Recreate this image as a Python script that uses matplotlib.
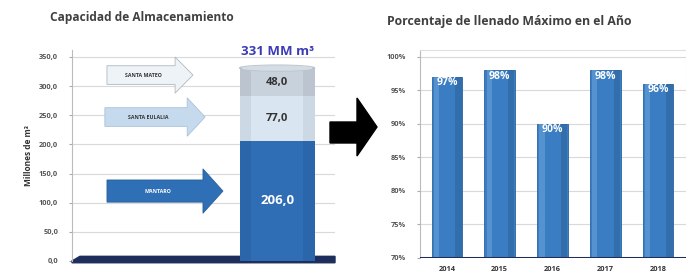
import numpy as np
import matplotlib
matplotlib.use("Agg")
import matplotlib.pyplot as plt
from matplotlib.patches import FancyArrow, Ellipse, Polygon

plt.rcParams['font.family'] = ['Open Sans', 'DejaVu Sans']

# left chart: storage capacity (millions of m3)
sources = ["MANTARO", "SANTA EULALIA", "SANTA MATEO"]
capacity = [206.0, 77.0, 48.0]
total_label = "331 MM m\u00b3"
seg_colors = ["#2F6DB5", "#D9E6F2", "#C8D2DC"]
seg_text = ["white", "#333333", "#333333"]
left_ticks = [0, 50, 100, 150, 200, 250, 300, 350]

# right chart: max fill percentage per year
years = ["2014", "2015", "2016", "2017", "2018"]
fill_pct = [97, 98, 90, 98, 96]
right_ticks = [70, 75, 80, 85, 90, 95, 100]

W, H = 686, 279
fig = plt.figure(figsize=(W / 100, H / 100), dpi=100)
fig.patch.set_facecolor("white")


def px_axes(l, t, r, b):
    return fig.add_axes([l / W, 1 - b / H, (r - l) / W, (b - t) / H])


grid_c = "#D9D9D9"
tick_c = "#555555"

# ---------------- left panel ----------------
ax1 = px_axes(72, 50, 335, 261)
ax1.set_xlim(0, 1)
ax1.set_ylim(0, 362)
ax1.set_yticks(left_ticks)
ax1.set_yticklabels([f"{v:.1f}".replace(".", ",") for v in left_ticks],
                    fontsize=5.3, color=tick_c, fontweight="bold")
ax1.set_xticks([])
ax1.tick_params(axis="y", length=2, color="#AAAAAA", pad=8)
for v in left_ticks[1:]:
    ax1.axhline(v, color=grid_c, lw=0.8, zorder=0)
for s in ["top", "right", "bottom"]:
    ax1.spines[s].set_visible(False)
ax1.spines["left"].set_color("#BBBBBB")
ax1.set_ylabel("Millones de m\u00b3", fontsize=6, color="#333333",
               fontweight="bold", labelpad=4)

cx, bw = 0.78, 0.285
bottoms = np.concatenate([[0], np.cumsum(capacity)[:-1]])
for val, bot, col, tc in zip(capacity, bottoms, seg_colors, seg_text):
    ax1.bar(cx, val, bottom=bot, width=bw, color=col, edgecolor="none", zorder=3)
    ax1.text(cx, bot + val / 2, f"{val:.1f}".replace(".", ","), ha="center",
             va="center", fontsize=9.5 if val > 100 else 8, fontweight="bold",
             color=tc, zorder=5)
# cylinder shading
for k in [0.0, 0.85]:
    ax1.bar(cx - bw / 2 + k * bw + 0.075 * bw, sum(capacity), width=0.15 * bw,
            color="black", alpha=0.06, edgecolor="none", zorder=4)
top = sum(capacity)
ax1.add_patch(Ellipse((cx, top), bw, 10, color="#B9C4CF", zorder=4))
ax1.add_patch(Ellipse((cx, top), bw * 0.92, 7, color="#D5DCE3", zorder=4))
ax1.text(cx, top + 18, total_label, ha="center", va="bottom", fontsize=9.5,
         fontweight="bold", color="#3B3BB8", zorder=5)

# callout arrows (layout: y centre, x start, x tip, body half, head half, head length)
arrow_layout = [(120, 0.133, 0.574, 19, 38, 0.076),
                (247, 0.125, 0.506, 16, 33, 0.068),
                (319, 0.133, 0.460, 16, 31, 0.068)]
arrow_face = ["#2F6FB5", "#C6DAEE", "#EEF3F8"]
arrow_edge = ["#2A5F9A", "#A9C2DA", "#B0B8C0"]
arrow_txt = ["white", "#333333", "#333333"]
for name, (yc, x0, x1, bh, hh, hl), fc, ec, tc in zip(
        sources, arrow_layout, arrow_face, arrow_edge, arrow_txt):
    ax1.add_patch(FancyArrow(x0, yc, x1 - x0, 0, width=2 * bh, head_width=2 * hh,
                             head_length=hl, length_includes_head=True,
                             facecolor=fc, edgecolor=ec, lw=0.6, zorder=3))
    ax1.text(x0 + (x1 - x0 - hl) / 2 + 0.01, yc, name, ha="center", va="center",
             fontsize=3.8, fontweight="bold", color=tc, zorder=5)

# floor
ax1.add_patch(Polygon([[0, 0], [0.03, 8], [1.0, 8], [1.0, -3], [0, -3]],
                      closed=True, color="#1E2E5C", zorder=2, clip_on=False))

fig.text(50 / W, 1 - 18 / H, "Capacidad de Almacenamiento", fontsize=8.6,
         fontweight="bold", color="#404040", va="center")

# ---------------- middle arrow ----------------
big = Polygon([[330 / W, 1 - 122 / H], [357 / W, 1 - 122 / H], [357 / W, 1 - 98 / H],
               [377 / W, 1 - 127 / H], [357 / W, 1 - 156 / H], [357 / W, 1 - 143 / H],
               [330 / W, 1 - 143 / H]], closed=True, transform=fig.transFigure,
              color="black")
fig.patches.append(big)

# ---------------- right panel ----------------
ax2 = px_axes(420, 50, 686, 258)
x = np.arange(len(years))
ax2.set_xlim(-0.51, 4.53)
ax2.set_ylim(70, 101)
ax2.set_yticks(right_ticks)
ax2.set_yticklabels([f"{v}%" for v in right_ticks], fontsize=5.3, color=tick_c,
                    fontweight="bold")
ax2.tick_params(axis="y", length=2, color="#AAAAAA", pad=8)
ax2.set_xticks(x)
ax2.set_xticklabels(years, fontsize=5.3, color="#333333", fontweight="bold")
ax2.tick_params(axis="x", length=0, pad=6)
for v in right_ticks[1:]:
    ax2.axhline(v, color=grid_c, lw=0.8, zorder=0)
for s in ["top", "right"]:
    ax2.spines[s].set_color("#E0E0E0")
ax2.spines["left"].set_color("#BBBBBB")
ax2.spines["bottom"].set_visible(False)

bars = ax2.bar(x, [p - 70 for p in fill_pct], bottom=70, width=0.58,
               color="#3A7DC2", edgecolor="#2A64A0", lw=0.6, zorder=3)
for xi, p in zip(x, fill_pct):
    ax2.bar(xi - 0.2, p - 70, bottom=70, width=0.1, color="#5592D0",
            edgecolor="none", zorder=4)
    ax2.bar(xi + 0.22, p - 70, bottom=70, width=0.12, color="#2B5F98",
            alpha=0.5, edgecolor="none", zorder=4)
    ax2.text(xi, p - 0.9, f"{p}%", ha="center", va="center", fontsize=7.5,
             fontweight="bold", color="white", zorder=5)
ax2.axhline(70, color="#1E2E5C", lw=2.2, zorder=6)

fig.text(387 / W, 1 - 22 / H, "Porcentaje de llenado M\u00e1ximo en el A\u00f1o",
         fontsize=8.8, fontweight="bold", color="#404040", va="center")

fig.savefig("out.png", dpi=100)
